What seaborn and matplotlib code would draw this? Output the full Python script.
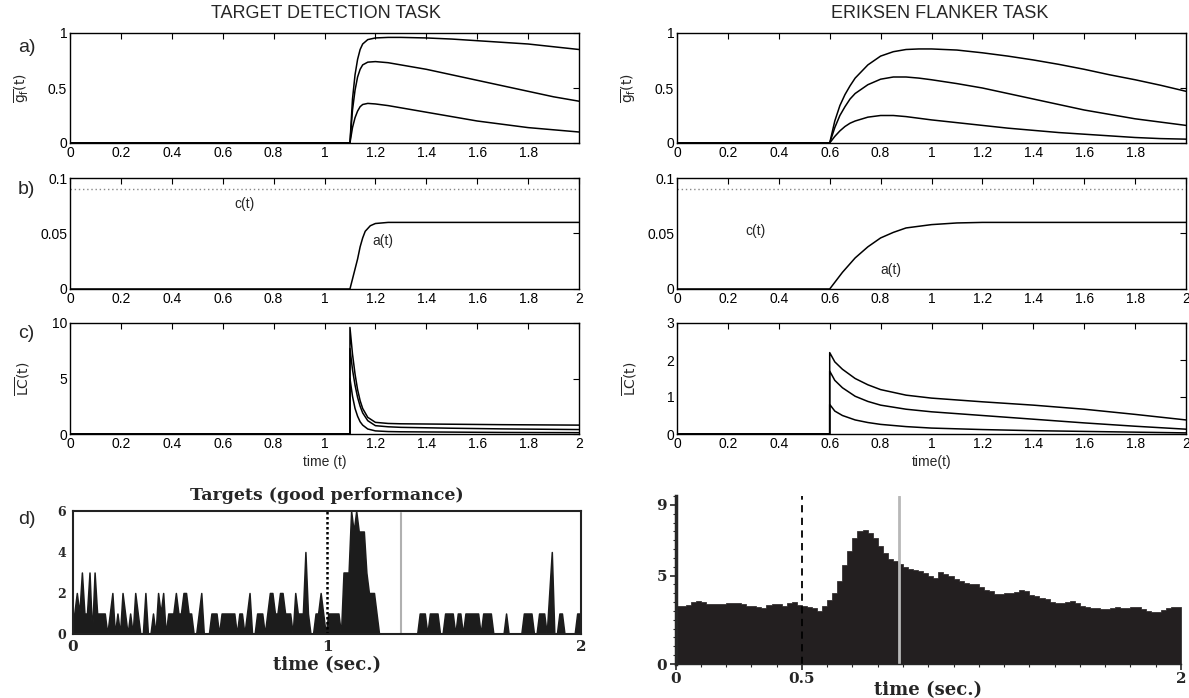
import numpy as np
import seaborn as sns
import matplotlib.pyplot as plt
from matplotlib.ticker import MultipleLocator, FormatStrFormatter

sns.set_style('white')
plt.rcParams['font.family'] = ['Liberation Sans Narrow', 'Liberation Sans', 'DejaVu Sans']
plt.rcParams['mathtext.fontset'] = 'custom'
plt.rcParams['mathtext.rm'] = 'Liberation Sans Narrow'
plt.rcParams['mathtext.it'] = 'Liberation Sans Narrow'

# ---------------- data ----------------
# a) gating curves, target detection (onset 1.1 s)
tA_left = [0, 1.1, 1.11, 1.12, 1.13, 1.14, 1.15, 1.17, 1.2, 1.25, 1.3, 1.4, 1.5, 1.6, 1.7, 1.8, 1.9, 2.0]
gA_left_hi = [0, 0, 0.40, 0.62, 0.76, 0.85, 0.90, 0.94, 0.955, 0.96, 0.96, 0.955, 0.945, 0.93, 0.915, 0.90, 0.875, 0.85]
gA_left_mid = [0, 0, 0.30, 0.48, 0.60, 0.67, 0.71, 0.735, 0.74, 0.73, 0.71, 0.67, 0.62, 0.57, 0.52, 0.47, 0.42, 0.38]
gA_left_lo = [0, 0, 0.14, 0.23, 0.29, 0.33, 0.35, 0.36, 0.355, 0.34, 0.32, 0.28, 0.24, 0.20, 0.17, 0.14, 0.12, 0.10]

# a) gating curves, flanker task (onset 0.6 s)
tA_right = [0, 0.6, 0.62, 0.64, 0.66, 0.68, 0.7, 0.75, 0.8, 0.85, 0.9, 0.95, 1.0, 1.1, 1.2, 1.3, 1.4, 1.5, 1.6, 1.7, 1.8, 1.9, 2.0]
gA_right_hi = [0, 0, 0.20, 0.34, 0.44, 0.52, 0.59, 0.71, 0.79, 0.83, 0.85, 0.855, 0.855, 0.845, 0.82, 0.79, 0.755, 0.715, 0.67, 0.62, 0.575, 0.525, 0.47]
gA_right_mid = [0, 0, 0.14, 0.25, 0.33, 0.40, 0.45, 0.53, 0.58, 0.60, 0.60, 0.59, 0.575, 0.54, 0.50, 0.45, 0.40, 0.35, 0.30, 0.26, 0.22, 0.19, 0.16]
gA_right_lo = [0, 0, 0.06, 0.11, 0.15, 0.18, 0.20, 0.235, 0.25, 0.25, 0.24, 0.225, 0.21, 0.185, 0.16, 0.135, 0.115, 0.095, 0.08, 0.065, 0.05, 0.04, 0.035]

# b) control c(t) and adaptation a(t)
c_level = 0.09
tB_left = [0, 1.1, 1.12, 1.13, 1.14, 1.15, 1.16, 1.18, 1.2, 1.25, 2.0]
aB_left = [0, 0, 0.018, 0.027, 0.038, 0.046, 0.052, 0.057, 0.059, 0.06, 0.06]
tB_right = [0, 0.6, 0.65, 0.7, 0.75, 0.8, 0.85, 0.9, 1.0, 1.1, 1.2, 2.0]
aB_right = [0, 0, 0.015, 0.028, 0.038, 0.046, 0.051, 0.055, 0.058, 0.0595, 0.06, 0.06]

# c) LC activity
tC_left = [0, 1.1, 1.1, 1.11, 1.12, 1.13, 1.14, 1.15, 1.17, 1.2, 1.25, 1.3, 1.5, 1.7, 2.0]
lcC_left_hi = [0, 0, 9.6, 7.2, 5.4, 4.0, 3.0, 2.3, 1.5, 1.05, 0.95, 0.92, 0.88, 0.84, 0.80]
lcC_left_mid = [0, 0, 7.7, 5.8, 4.4, 3.3, 2.5, 1.9, 1.2, 0.75, 0.65, 0.60, 0.52, 0.46, 0.40]
lcC_left_lo = [0, 0, 5.0, 3.4, 2.3, 1.6, 1.1, 0.8, 0.45, 0.28, 0.22, 0.20, 0.17, 0.14, 0.12]
tC_right = [0, 0.6, 0.6, 0.62, 0.65, 0.7, 0.75, 0.8, 0.9, 1.0, 1.1, 1.2, 1.4, 1.6, 1.8, 2.0]
lcC_right_hi = [0, 0, 2.2, 1.95, 1.75, 1.5, 1.33, 1.2, 1.05, 0.97, 0.92, 0.87, 0.78, 0.67, 0.53, 0.38]
lcC_right_mid = [0, 0, 1.7, 1.45, 1.25, 1.02, 0.88, 0.78, 0.67, 0.60, 0.55, 0.50, 0.40, 0.30, 0.21, 0.13]
lcC_right_lo = [0, 0, 0.8, 0.62, 0.50, 0.38, 0.31, 0.26, 0.20, 0.16, 0.14, 0.12, 0.09, 0.07, 0.05, 0.03]

# d) left: spike counts, 10 ms bins from 0 to 2 s
d_left_counts = [
    1, 2, 1, 3, 1, 1, 3, 0, 3, 1,
    1, 1, 1, 0, 1, 2, 0, 1, 0, 2,
    1, 0, 1, 0, 2, 1, 0, 0, 2, 0,
    0, 1, 0, 2, 1, 2, 0, 1, 1, 1,
    2, 1, 1, 2, 2, 1, 1, 0, 0, 1,
    2, 0, 0, 0, 1, 1, 1, 0, 1, 1,
    1, 1, 1, 1, 0, 1, 1, 0, 1, 2,
    0, 0, 1, 1, 1, 0, 1, 2, 2, 1,
    1, 2, 2, 1, 1, 1, 0, 2, 1, 1,
    1, 4, 1, 0, 0, 1, 1, 2, 1, 0,
    1, 1, 1, 1, 1, 0, 3, 3, 3, 6,
    5, 6, 5, 5, 5, 3, 2, 2, 2, 1,
    0, 0, 0, 0, 0, 0, 0, 0, 0, 0,
    0, 0, 0, 0, 0, 0, 1, 1, 1, 0,
    1, 1, 1, 1, 0, 0, 1, 1, 1, 1,
    0, 1, 1, 0, 1, 1, 1, 1, 1, 1,
    0, 1, 1, 1, 1, 0, 0, 0, 0, 0,
    1, 0, 0, 0, 0, 0, 0, 1, 1, 1,
    1, 0, 0, 1, 1, 1, 0, 2, 4, 0,
    0, 1, 1, 0, 0, 0, 0, 0, 1, 1,
]
d_left_marks = [1.0, 1.29]

# d) right: firing rate, 20 ms bins from 0 to 2 s
d_right_rate = [
    3.3, 3.3, 3.35, 3.5, 3.55, 3.5, 3.4, 3.4, 3.4, 3.42,
    3.47, 3.47, 3.45, 3.4, 3.3, 3.3, 3.25, 3.17, 3.35, 3.4,
    3.4, 3.3, 3.45, 3.5, 3.35, 3.3, 3.25, 3.15, 3.0, 3.3,
    3.6, 4.0, 4.7, 5.6, 6.4, 7.1, 7.5, 7.6, 7.4, 7.1,
    6.7, 6.3, 5.95, 5.8, 5.65, 5.5, 5.35, 5.3, 5.28, 5.15,
    5.0, 4.87, 5.2, 5.1, 4.95, 4.8, 4.7, 4.6, 4.55, 4.5,
    4.35, 4.2, 4.1, 3.96, 3.98, 4.0, 4.03, 4.06, 4.2, 4.15,
    3.9, 3.85, 3.75, 3.65, 3.5, 3.45, 3.43, 3.5, 3.58, 3.45,
    3.3, 3.25, 3.17, 3.15, 3.1, 3.1, 3.15, 3.2, 3.18, 3.17,
    3.2, 3.2, 3.1, 3.0, 2.95, 2.92, 3.05, 3.17, 3.2, 3.25,
]
d_right_marks = [0.5, 0.885]

# ---------------- figure ----------------
fig = plt.figure(figsize=(11.89, 6.98), dpi=100)
W, H = 1189.0, 698.0


def box(x0, x1, y0, y1):
    return [x0 / W, 1 - y1 / H, (x1 - x0) / W, (y1 - y0) / H]


def matlab_style(ax, ylim, yticks, xmaxtick=2.0):
    ax.set_xlim(0, 2)
    ax.set_ylim(*ylim)
    ax.set_xticks(np.round(np.arange(0, xmaxtick + 0.01, 0.2), 1))
    ax.set_yticks(yticks)
    ax.xaxis.set_major_formatter(FormatStrFormatter('%g'))
    ax.yaxis.set_major_formatter(FormatStrFormatter('%g'))
    ax.tick_params(direction='in', top=True, right=True, length=4, width=0.8,
                   labelsize=10, pad=2, colors='black')
    for s in ax.spines.values():
        s.set_visible(True)
        s.set_linewidth(1.0)
        s.set_color('black')
    ax.set_xlabel('')
    ax.set_ylabel('')


def curves(ax, t, ys):
    for y in ys:
        sns.lineplot(x=t, y=y, ax=ax, color='black', lw=1.1,
                     estimator=None, sort=False)


gf_label = r'$\overline{\mathrm{g}_\mathrm{f}}\mathrm{(t)}$'
lc_label = r'$\overline{\mathrm{LC}}\mathrm{(t)}$'

# left column
axA = fig.add_axes(box(70, 579, 33, 143))
curves(axA, tA_left, [gA_left_hi, gA_left_mid, gA_left_lo])
matlab_style(axA, (0, 1), [0, 0.5, 1], xmaxtick=1.8)
axA.set_ylabel(gf_label, fontsize=10)
axA.yaxis.set_label_coords(-0.075, 0.5)

axB = fig.add_axes(box(70, 579, 178, 289))
sns.lineplot(x=[0, 2], y=[c_level, c_level], ax=axB, color='#888888', lw=1.0,
             linestyle=(0, (1, 2)))
curves(axB, tB_left, [aB_left])
matlab_style(axB, (0, 0.1), [0, 0.05, 0.1])
axB.text(0.685, 0.0766, 'c(t)', ha='center', va='center', fontsize=10)
axB.text(1.23, 0.0435, 'a(t)', ha='center', va='center', fontsize=10)

axC = fig.add_axes(box(70, 579, 323, 434))
curves(axC, tC_left, [lcC_left_hi, lcC_left_mid, lcC_left_lo])
matlab_style(axC, (0, 10), [0, 5, 10])
axC.set_ylabel(lc_label, fontsize=10)
axC.yaxis.set_label_coords(-0.075, 0.5)
axC.set_xlabel('time (t)', fontsize=10, labelpad=3)

# right column
axA2 = fig.add_axes(box(677, 1186, 33, 143))
curves(axA2, tA_right, [gA_right_hi, gA_right_mid, gA_right_lo])
matlab_style(axA2, (0, 1), [0, 0.5, 1], xmaxtick=1.8)
axA2.set_ylabel(gf_label, fontsize=10)
axA2.yaxis.set_label_coords(-0.075, 0.5)

axB2 = fig.add_axes(box(677, 1186, 178, 289))
sns.lineplot(x=[0, 2], y=[c_level, c_level], ax=axB2, color='#888888', lw=1.0,
             linestyle=(0, (1, 2)))
curves(axB2, tB_right, [aB_right])
matlab_style(axB2, (0, 0.1), [0, 0.05, 0.1])
axB2.text(0.31, 0.052, 'c(t)', ha='center', va='center', fontsize=10)
axB2.text(0.84, 0.017, 'a(t)', ha='center', va='center', fontsize=10)

axC2 = fig.add_axes(box(677, 1186, 323, 434))
curves(axC2, tC_right, [lcC_right_hi, lcC_right_mid, lcC_right_lo])
matlab_style(axC2, (0, 3), [0, 1, 2, 3])
axC2.set_ylabel(lc_label, fontsize=10)
axC2.yaxis.set_label_coords(-0.075, 0.5)
axC2.set_xlabel('time(t)', fontsize=10, labelpad=3)

# titles and panel letters
fig.text(326 / W, 1 - 13 / H, 'TARGET DETECTION TASK', ha='center', va='center',
         fontsize=13, family=['Liberation Sans', 'DejaVu Sans'])
fig.text(940 / W, 1 - 13 / H, 'ERIKSEN FLANKER TASK', ha='center', va='center',
         fontsize=13, family=['Liberation Sans', 'DejaVu Sans'])
for lab, yy in [('a)', 47), ('b)', 190), ('c)', 333), ('d)', 520)]:
    fig.text(18 / W, 1 - yy / H, lab, ha='left', va='center', fontsize=14,
             family=['Liberation Sans', 'DejaVu Sans'])

serif = ['DejaVu Serif']

# d) left histogram
axD = fig.add_axes(box(73, 581, 511, 634))
centers_left = np.arange(len(d_left_counts)) * 0.01 + 0.005
sns.histplot(x=centers_left, weights=d_left_counts, binwidth=0.01, binrange=(0, 2),
             element='poly', fill=True, color='#1c1c1c', alpha=1, linewidth=1.1,
             ax=axD)
axD.axvline(d_left_marks[0], color='black', lw=1.8, linestyle=(0, (1, 1)))
axD.axvline(d_left_marks[1], ymax=0.98, color='#b0b0b0', lw=1.5)
axD.set_xlim(0, 2)
axD.set_ylim(0, 6)
axD.set_xticks(np.round(np.arange(0, 2.01, 0.2), 1))
axD.set_xticklabels(['0', '', '', '', '', '1', '', '', '', '', '2'])
axD.set_yticks([0, 2, 4, 6])
for s in axD.spines.values():
    s.set_visible(True)
    s.set_linewidth(1.5)
    s.set_color('#222222')
axD.tick_params(axis='x', direction='out', length=3, width=1, labelsize=11, pad=1)
axD.tick_params(axis='y', direction='out', length=3, width=1, labelsize=9, pad=2)
for lbl in axD.get_xticklabels() + axD.get_yticklabels():
    lbl.set_family(serif)
    lbl.set_weight('bold')
axD.set_ylabel('')
axD.set_xlabel('time (sec.)', fontsize=13, family=serif, weight='bold', labelpad=2)
axD.set_title('Targets (good performance)', fontsize=12.5, family=serif,
              weight='bold', pad=8)

# d) right histogram
axD2 = fig.add_axes(box(675.5, 1181, 496, 664))
centers_right = np.arange(len(d_right_rate)) * 0.02 + 0.01
sns.histplot(x=centers_right, weights=d_right_rate, binwidth=0.02, binrange=(0, 2),
             element='step', fill=True, color='#231f20', alpha=1, linewidth=0.5,
             ax=axD2)
axD2.axvline(d_right_marks[0], color='black', lw=1.3, linestyle=(0, (4, 3)))
axD2.axvline(d_right_marks[1], color='#b8b8b8', lw=2.0)
axD2.set_xlim(0, 2)
axD2.set_ylim(0, 9.5)
axD2.set_xticks([0, 0.5, 2])
axD2.set_xticklabels(['0', '0.5', '2'])
axD2.set_yticks([0, 5, 9])
axD2.xaxis.set_minor_locator(MultipleLocator(0.1))
axD2.yaxis.set_minor_locator(MultipleLocator(0.5))
sns.despine(ax=axD2, top=True, right=True)
axD2.spines['left'].set_linewidth(2.5)
axD2.spines['bottom'].set_linewidth(1.0)
axD2.tick_params(axis='both', which='major', direction='out', length=4, width=1.2,
                 labelsize=11, pad=2)
axD2.tick_params(axis='both', which='minor', direction='out', length=2.5, width=0.8)
axD2.tick_params(axis='both', which='both', bottom=True, left=True)
for lbl in axD2.get_xticklabels() + axD2.get_yticklabels():
    lbl.set_family(serif)
    lbl.set_weight('bold')
axD2.set_ylabel('')
axD2.set_xlabel('time (sec.)', fontsize=13, family=serif, weight='bold', labelpad=-4)

fig.savefig('out.png', dpi=100)
